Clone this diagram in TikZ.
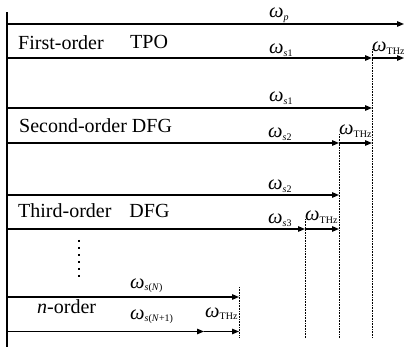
\documentclass[tikz,border=0pt]{standalone}
\usepackage{fontspec}
\setmainfont{Liberation Serif}
\usetikzlibrary{arrows.meta}
\newcommand{\omlab}[1]{\textit{ω}\raisebox{-2.6pt}{\fontsize{10}{11}\selectfont #1}}
\begin{document}
\begin{tikzpicture}[x=1pt,y=-1pt,
  beam/.style={line width=1.3pt,-{Triangle[length=7pt,width=5.5pt]}},
  guide/.style={line width=1pt,dash pattern=on 1pt off 0.6pt},
  axis/.style={line width=1.4pt},
  lab/.style={font=\fontsize{20}{22}\selectfont,inner sep=0pt,anchor=base west},
  om/.style={font=\fontsize{20.5}{22}\selectfont,inner sep=0pt,anchor=base west}]
\useasboundingbox (0,0) rectangle (404,347);
% left axis
\coordinate (axT) at (7,12.5);
\coordinate (axB) at (7,347);
\draw[axis] (axT) -- (axB);
% beam coordinates
\coordinate (p0) at (7,24);   \coordinate (p1) at (404,24);
\coordinate (a0) at (7,58);   \coordinate (a1) at (372,58);  \coordinate (a2) at (404,58);
\coordinate (b0) at (7,108);  \coordinate (b1) at (372,108);
\coordinate (c0) at (7,143);  \coordinate (c1) at (339,143); \coordinate (c2) at (372,143);
\coordinate (d0) at (7,195);  \coordinate (d1) at (339,195);
\coordinate (e0) at (7,229);  \coordinate (e1) at (305,229); \coordinate (e2) at (339,229);
\coordinate (f0) at (7,297);  \coordinate (f1) at (239,297);
\coordinate (g0) at (7,331.5);\coordinate (g1) at (204,331.5); \coordinate (g2) at (239,331.5);
% beams
\draw[beam] (p0) -- (p1);
\draw[beam] (a0) -- (a1); \draw[beam] (a1) -- (a2);
\draw[beam] (b0) -- (b1);
\draw[beam] (c0) -- (c1); \draw[beam] (c1) -- (c2);
\draw[beam] (d0) -- (d1);
\draw[beam] (e0) -- (e1); \draw[beam] (e1) -- (e2);
\draw[beam] (f0) -- (f1);
\draw[beam] (g0) -- (g1); \draw[beam] (g1) -- (g2);
% dotted guides
\coordinate (v1t) at (372,49);  \coordinate (v1b) at (372,338);
\coordinate (v2t) at (339,134); \coordinate (v2b) at (339,338);
\coordinate (v3t) at (305,219); \coordinate (v3b) at (305,338);
\coordinate (v4t) at (239,287); \coordinate (v4b) at (239,338);
\draw[guide] (v1t) -- (v1b);
\draw[guide] (v2t) -- (v2b);
\draw[guide] (v3t) -- (v3b);
\draw[guide] (v4t) -- (v4b);
% vertical ellipsis
\coordinate (dt) at (79,240);
\coordinate (db) at (79,278);
\draw[line width=2pt,dash pattern=on 2pt off 5pt] (dt) -- (db);
% labels
\node[om] (lp) at (269,18) {\omlab{\textit{p}}};
\node[lab] (l1) at (18,50) {First-order};
\node[lab] (l1b) at (130,49) {TPO};
\node[om] (ls1a) at (269,54) {\omlab{\textit{s}1}};
\node[om] (lt1) at (372,52) {\omlab{THz}};
\node[om] (ls1b) at (269,102) {\omlab{\textit{s}1}};
\node[lab] (l2) at (19,133) {Second-order DFG};
\node[om] (ls2a) at (268,138) {\omlab{\textit{s}2}};
\node[om] (lt2) at (339,135) {\omlab{THz}};
\node[om] (ls2b) at (268,190) {\omlab{\textit{s}2}};
\node[lab] (l3) at (18,218) {Third-order\hspace{0.9em}DFG};
\node[om] (ls3) at (268,224) {\omlab{\textit{s}3}};
\node[om] (lt3) at (305,221) {\omlab{THz}};
\node[om] (lsn) at (130,288) {\omlab{\textit{s}(\textit{N})}};
\node[lab] (ln) at (37,313) {\textit{n}-order};
\node[om] (lsn1) at (130,319) {\omlab{\textit{s}(\textit{N}+1)}};
\node[om] (lt4) at (205,317) {\omlab{THz}};
\end{tikzpicture}
\end{document}
